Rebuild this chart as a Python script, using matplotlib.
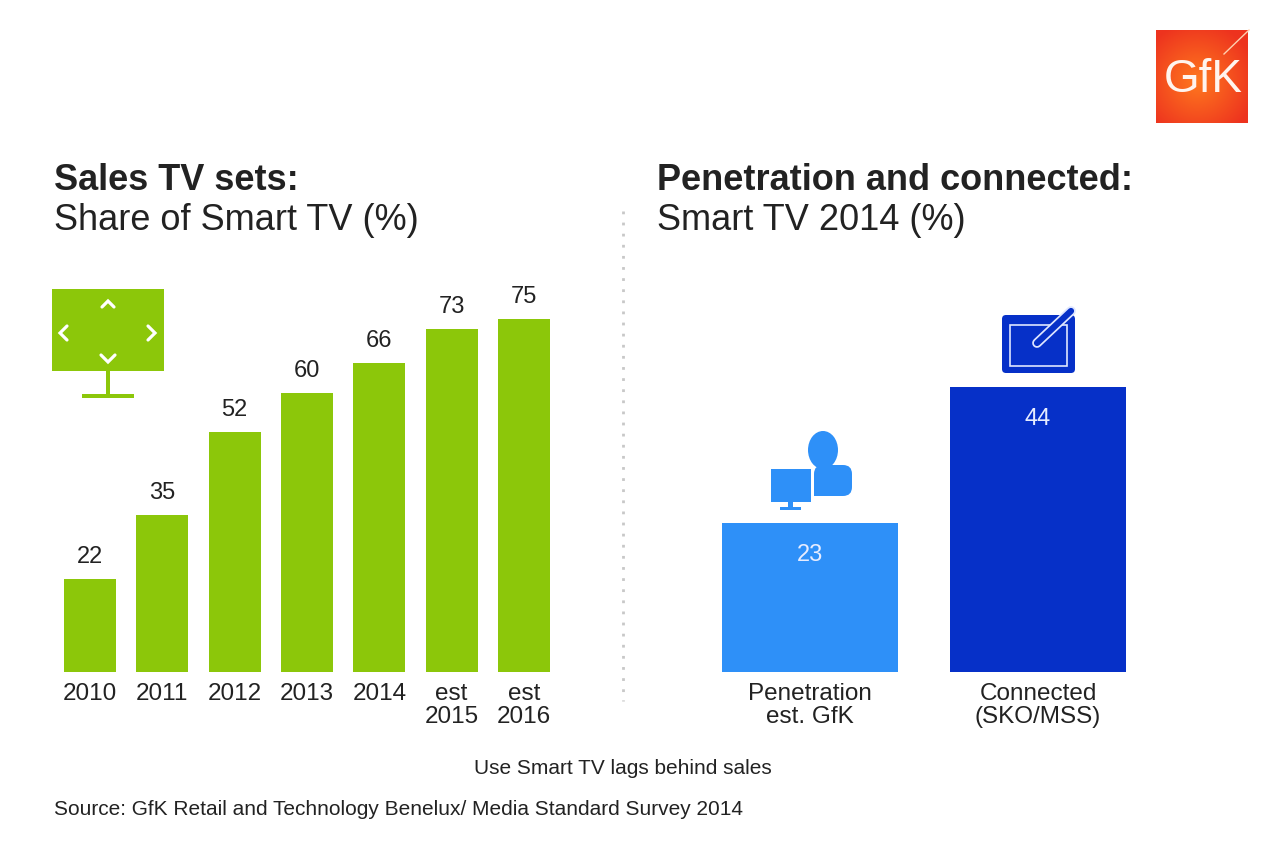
import matplotlib
matplotlib.use("Agg")
import matplotlib.pyplot as plt
import numpy as np
from matplotlib.patches import Rectangle, FancyBboxPatch, Ellipse

plt.rcParams['font.family'] = ['Liberation Sans', 'DejaVu Sans']

# ---- data ----
years = ['2010', '2011', '2012', '2013', '2014', 'est\n2015', 'est\n2016']
share_smart_tv = [22, 35, 52, 60, 66, 73, 75]
usage_labels = ['Penetration\nest. GfK', 'Connected\n(SKO/MSS)']
usage_values = [23, 44]

GREEN = '#8cc70a'
LBLUE = '#2e90f8'
DBLUE = '#0630c8'
TXT = '#222222'

W, H = 1280, 853
fig = plt.figure(figsize=(W / 100, H / 100), dpi=100)
fig.patch.set_facecolor('white')


def fbox(l, r, t, b):
    return [l / W, 1 - b / H, (r - l) / W, (b - t) / H]


# ---- left chart ----
axL = fig.add_axes(fbox(53.8, 560.2, 280, 673))
x = np.arange(len(years))
axL.bar(x, share_smart_tv, width=0.72, color=GREEN, bottom=0)
axL.set_xlim(-0.5, len(years) - 0.5)
axL.set_ylim(3.06, 83.16)
for xi, v in zip(x, share_smart_tv):
    axL.annotate(str(v), (xi, v), xytext=(0, 16.5), textcoords='offset points',
                 ha='center', va='center', fontsize=17, color=TXT)
axL.set_xticks(x)
axL.set_xticklabels(years, fontsize=17.5, color=TXT, linespacing=1.1)
axL.tick_params(axis='x', length=0, pad=7)
axL.set_yticks([])
for s in axL.spines.values():
    s.set_visible(False)

# ---- right chart ----
axR = fig.add_axes(fbox(696, 1152, 280, 673))
xr = np.arange(len(usage_values))
axR.bar(xr, usage_values, width=0.772, color=[LBLUE, DBLUE])
axR.set_xlim(-0.5, len(usage_values) - 0.5)
axR.set_ylim(0, 60.7)
for xi, v in zip(xr, usage_values):
    axR.annotate(str(v), (xi, v), xytext=(0, -22.5), textcoords='offset points',
                 ha='center', va='center', fontsize=17, color='#e6ecff')
axR.set_xticks(xr)
axR.set_xticklabels(usage_labels, fontsize=17.5, color=TXT, linespacing=1.1)
axR.tick_params(axis='x', length=0, pad=7)
axR.set_yticks([])
for s in axR.spines.values():
    s.set_visible(False)

# ---- overlay for text & icons (pixel coordinates) ----
ov = fig.add_axes([0, 0, 1, 1], facecolor='none')
ov.set_xlim(0, W)
ov.set_ylim(H, 0)
ov.axis('off')

ov.text(54, 180, 'Sales TV sets:', fontsize=26, fontweight='bold', color=TXT, va='center', ha='left')
ov.text(54, 220, 'Share of Smart TV (%)', fontsize=26, color=TXT, va='center', ha='left')
ov.text(657, 180, 'Penetration and connected:', fontsize=26, fontweight='bold', color=TXT, va='center', ha='left')
ov.text(657, 220, 'Smart TV 2014 (%)', fontsize=26, color=TXT, va='center', ha='left')

ov.text(623, 769, 'Use Smart TV lags behind sales', fontsize=15, color=TXT, va='center', ha='center')
ov.text(54, 810, 'Source: GfK Retail and Technology Benelux/ Media Standard Survey 2014',
        fontsize=15, color=TXT, va='center', ha='left')

# dotted separator
ov.plot([623, 623], [212, 702], color='#c8c8c8', lw=2, ls=(0, (1, 3)))

# GfK logo with gradient
gx, gy = np.meshgrid(np.linspace(-1, 1, 100), np.linspace(-1, 1, 100))
rr = np.clip(np.sqrt((gx + 0.1) ** 2 + (gy - 0.1) ** 2) / 1.3, 0, 1)
c1 = np.array([1.0, 0.47, 0.12])
c2 = np.array([0.93, 0.20, 0.12])
img = c1[None, None, :] * (1 - rr[..., None]) + c2[None, None, :] * rr[..., None]
ov.imshow(img, extent=(1156, 1248, 124, 31), zorder=2, aspect='auto')
ov.text(1203, 80, 'GfK', fontsize=33, color='#fff4ee', ha='center', va='center', zorder=3)
ov.plot([1224, 1249], [55, 31], color='#ffd0b0', lw=1, zorder=3)
ov.set_xlim(0, W)
ov.set_ylim(H, 0)

# TV icon (green)
ov.add_patch(Rectangle((52, 290), 112, 82, color=GREEN, lw=0))
ov.add_patch(Rectangle((106, 372), 4, 25, color=GREEN, lw=0))
ov.add_patch(Rectangle((82, 395), 52, 4, color=GREEN, lw=0))
chev = dict(color='white', lw=2.3, solid_capstyle='round', solid_joinstyle='miter')
ov.plot([102, 108, 114], [308, 302, 308], **chev)
ov.plot([101, 108, 115], [356, 363, 356], **chev)
ov.plot([67, 60, 67], [327, 334, 341], **chev)
ov.plot([148, 155, 148], [327, 334, 341], **chev)

# person + monitor icon (light blue)
ov.add_patch(Rectangle((771, 470), 40, 33, color=LBLUE, lw=0))
ov.add_patch(Rectangle((788, 503), 5, 6, color=LBLUE, lw=0))
ov.add_patch(Rectangle((780, 508), 21, 3, color=LBLUE, lw=0))
ov.add_patch(Ellipse((823, 451), 30, 38, color=LBLUE, lw=0))
ov.add_patch(FancyBboxPatch((814, 466), 38, 31, boxstyle='round,pad=0,rounding_size=9',
                            color=LBLUE, lw=0))
ov.add_patch(Rectangle((814, 478), 12, 19, color=LBLUE, lw=0))

# tablet icon (dark blue)
ov.add_patch(FancyBboxPatch((1002, 316), 73, 58, boxstyle='round,pad=0,rounding_size=4',
                            color=DBLUE, lw=0))
ov.add_patch(Rectangle((1010, 326), 57, 41, fill=False, ec='#dfe6ff', lw=1.2))
ov.plot([1037, 1071], [344, 312], color='#dfe6ff', lw=7, solid_capstyle='round')
ov.plot([1037, 1071], [344, 312], color=DBLUE, lw=4.5, solid_capstyle='round')

fig.savefig('out.png', dpi=100, facecolor='white')
